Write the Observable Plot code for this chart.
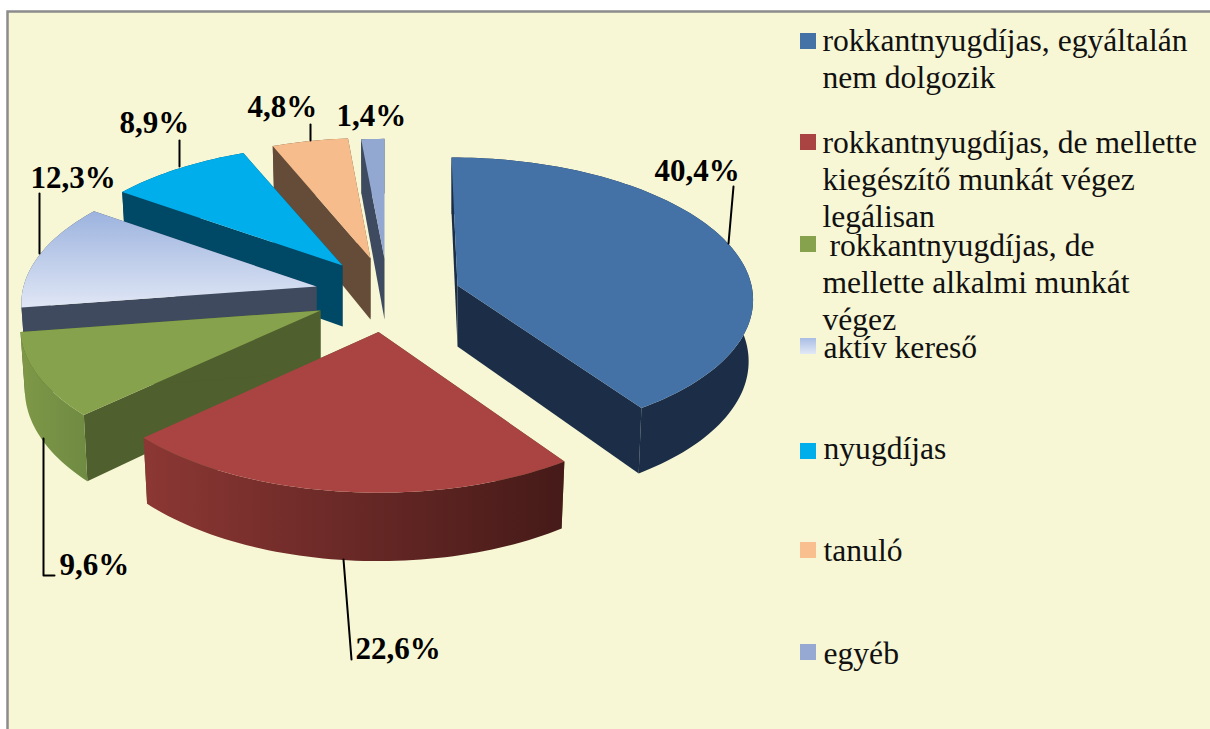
<!DOCTYPE html>
<html lang="hu">
<head>
<meta charset="utf-8">
<title>Chart</title>
<script src="https://cdn.jsdelivr.net/npm/d3@7"></script>
<script src="https://cdn.jsdelivr.net/npm/@observablehq/plot@0.6"></script>
<style>
  html, body { margin: 0; padding: 0; background: #fff; }
  svg { display: block; }
</style>
</head>
<body>
<div id="chart"></div>
<script>
// ---- data ----
const categories = [
  "rokkantnyugdíjas, egyáltalán\nnem dolgozik",
  "rokkantnyugdíjas, de mellette\nkiegészítő munkát végez\nlegálisan",
  "rokkantnyugdíjas, de\nmellette alkalmi munkát\nvégez",
  "aktív kereső",
  "nyugdíjas",
  "tanuló",
  "egyéb"
];
const shares = [40.4, 22.6, 9.6, 12.3, 8.9, 4.8, 1.4];

// ---- styles ----
const topColors  = ["#4471A6", "#A94442", "#87A24C", "url(#lightTop)", "#00AEEC", "#F6BC8B", "#92A8D0"];
const wallColors = ["#1B2D47", "#4F5F2D", "#4F5F2D", "#3F4A5E", "#004966", "#654C38", "#3D4A5F"];
const arcColors  = ["#1B2D47", "url(#redArc)", "url(#greenArc)", "#3F4A5E", "#004966", "#654C38", "#3D4A5F"];
const swatchColors = ["#4471A6", "#A94442", "#87A24C", "url(#lightSwatch)", "#00AEEC", "#FABF8F", "#95A9D2"];

// ---- layout ----
const W = 1210, H = 729;
const apexX = [457, 378, 320, 316, 342, 370, 384];
const apexY = [285, 331.5, 310, 286, 265, 258, 258];
const radiusX = [294, 298, 298, 293, 290, 286, 298];
const radiusY = [138.6, 143, 140, 138, 135, 135, 134];
const tilt = [0.083, 0.11, 0.12, 0.12, 0.12, 0.12, 0.12];
const skew = [6, 0, 0, 0, 0, 0, 0];
const depth = 60;
const legendY = [50, 152, 255, 357, 458, 560, 663];
const legendTextX = [822, 822, 829, 823, 823, 823, 823];
const swatchY = [33, 134, 236, 338, 443, 542, 644];
const labelX = [654, 355, 59, 30, 119, 247, 336];
const labelY = [180, 658, 574, 187, 132, 116, 125];
const leaders = [
  [[728, 243], [733, 186]],
  [[343, 559], [351, 659]],
  [[43, 438], [43, 575], [54, 575]],
  [[39, 253], [39, 193]],
  [[179, 166], [179, 140]],
  [[310, 140], [310, 124]]
];

// ---- geometry: slice angles come straight from the shares ----
const total = d3.sum(shares);
const ends = d3.cumsum(shares).map(v => v / total * 2 * Math.PI);
const starts = ends.map((_, i) => (i ? ends[i - 1] : 0));

function rim(i, t, lower) {
  const u = Math.sin(t), v = -Math.cos(t), d = 1 - tilt[i] * v;
  const px = radiusX[i] * u / d + skew[i] * v, py = radiusY[i] * v / d;
  return lower
    ? {x: apexX[i] + px * 0.985, y: apexY[i] + py + depth / d + 1}
    : {x: apexX[i] + px, y: apexY[i] + py};
}
function arc(i, lower) {
  const n = Math.max(4, Math.ceil((ends[i] - starts[i]) * 40));
  return d3.range(n + 1).map(k => rim(i, starts[i] + (ends[i] - starts[i]) * k / n, lower));
}
const apex = (i, lower) => ({x: apexX[i], y: apexY[i] + (lower ? depth + 1 : 0)});

function sliceMarks(i) {
  const poly = (pts, fill) => Plot.line(pts, {x: "x", y: "y", fill, stroke: "none", curve: "linear"});
  return [
    poly([apex(i), rim(i, starts[i]), rim(i, starts[i], true), apex(i, true)], wallColors[i]),
    poly([apex(i), rim(i, ends[i]), rim(i, ends[i], true), apex(i, true)], wallColors[i]),
    poly([...arc(i), ...arc(i, true).reverse()], arcColors[i]),
    poly([apex(i), ...arc(i)], topColors[i])
  ];
}

const defs = () => {
  const d = d3.create("svg:defs");
  const grad = (id, x1, y1, x2, y2, c1, c2) => {
    const g = d.append("linearGradient").attr("id", id).attr("gradientUnits", "userSpaceOnUse")
      .attr("x1", x1).attr("y1", y1).attr("x2", x2).attr("y2", y2);
    g.append("stop").attr("offset", 0).attr("stop-color", c1);
    g.append("stop").attr("offset", 1).attr("stop-color", c2);
  };
  grad("lightTop", 0, 209, 0, 306, "#9BB2DE", "#DFE6F5");
  grad("lightSwatch", 0, 338, 0, 354, "#A9BDE4", "#E2E9F6");
  grad("redArc", 143, 0, 565, 0, "#8C3734", "#451A18");
  grad("greenArc", 20, 0, 87, 0, "#7E9847", "#6F8B42");
  return d.node();
};

// ---- legend table ----
const legendRows = categories.flatMap((c, i) =>
  c.split("\n").map((line, k) => ({line, x: k ? 822 : legendTextX[i], y: legendY[i] + k * 37}))
);
const swatches = swatchColors.map((c, i) => ({c, y: swatchY[i]}));
const pct = v => d3.format(".1f")(v).replace(".", ",") + "%";
const labels = shares.map((v, i) => ({text: pct(v), x: labelX[i], y: labelY[i]}));

const serif = "'Liberation Serif', 'Times New Roman', serif";
const drawOrder = [6, 5, 4, 3, 2, 1, 0];

const chart = Plot.plot({
  width: W, height: H, margin: 0,
  x: {domain: [0, W], range: [0, W], axis: null},
  y: {domain: [0, H], range: [0, H], axis: null},
  style: {background: "transparent"},
  marks: [
    defs,
    // panel with its grey top and left edges
    Plot.rect([{x1: 7.5, x2: W + 10, y1: 11.5, y2: H + 10}], {
      x1: "x1", x2: "x2", y1: "y1", y2: "y2", fill: "#F7F7D5", stroke: "#8C8C8C", strokeWidth: 2.5
    }),
    ...drawOrder.flatMap(sliceMarks),
    // leader lines
    ...leaders.map(l => Plot.line(l, {x: d => d[0], y: d => d[1], stroke: "#000", strokeWidth: 2, curve: "linear"})),
    // percentage labels
    Plot.text(labels, {
      x: "x", y: "y", text: "text", textAnchor: "start", lineAnchor: "bottom",
      fontFamily: serif, fontWeight: "bold", fontSize: 31, fill: "#000"
    }),
    // legend
    Plot.rect(swatches, {x1: () => 800, x2: () => 816, y1: "y", y2: d => d.y + 16, fill: d => d.c}),
    Plot.text(legendRows, {
      x: "x", y: "y", text: "line", textAnchor: "start", lineAnchor: "bottom",
      fontFamily: serif, fontSize: 31.6, fill: "#111"
    })
  ]
});
document.getElementById("chart").appendChild(chart);
</script>
</body>
</html>
